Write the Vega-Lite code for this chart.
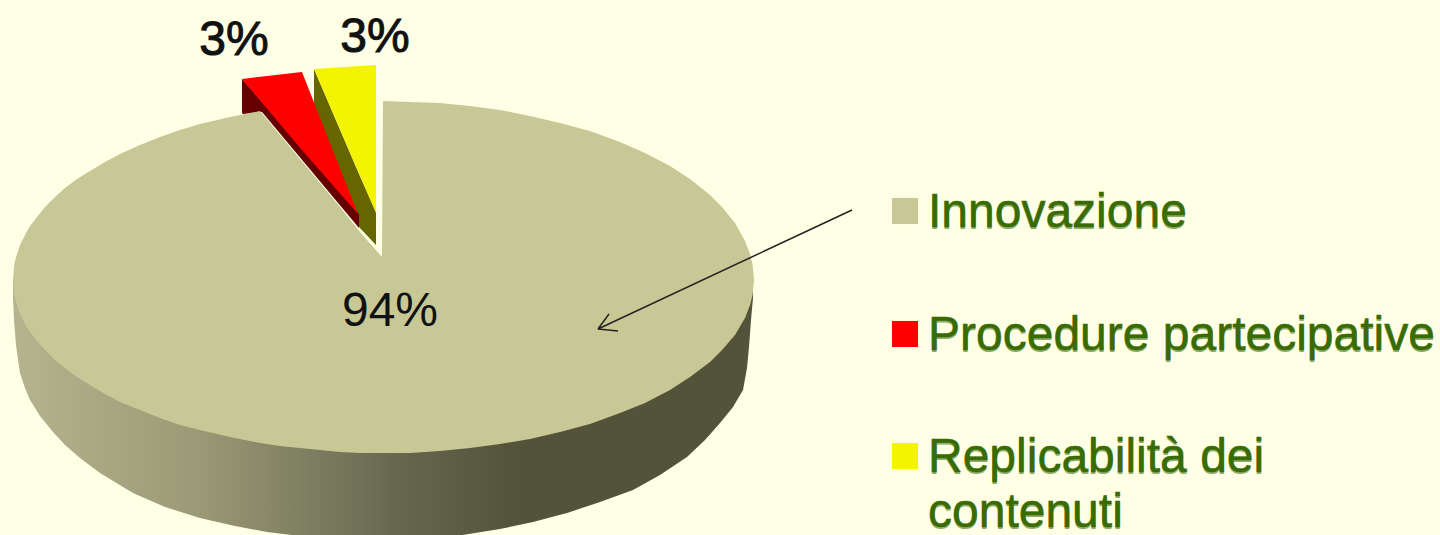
{
  "$schema": "https://vega.github.io/schema/vega-lite/v6.json",
  "width": 1440,
  "height": 535,
  "autosize": {"type": "none"},
  "padding": 0,
  "background": "#ffffe6",
  "view": {"stroke": null, "fill": "#ffffe6"},
  "datasets": {
    "pieSide": [
      {"x": 13, "y": 280, "y2": 297}, {"x": 14, "y": 280, "y2": 320}, {"x": 16, "y": 280, "y2": 345},
      {"x": 18, "y": 280, "y2": 360}, {"x": 20, "y": 280, "y2": 373}, {"x": 25, "y": 280, "y2": 388},
      {"x": 30, "y": 280, "y2": 400}, {"x": 40, "y": 280, "y2": 416}, {"x": 53, "y": 280, "y2": 432},
      {"x": 65, "y": 280, "y2": 445}, {"x": 80, "y": 280, "y2": 458}, {"x": 100, "y": 280, "y2": 473},
      {"x": 133, "y": 280, "y2": 493}, {"x": 165, "y": 280, "y2": 507}, {"x": 200, "y": 280, "y2": 518},
      {"x": 235, "y": 280, "y2": 526}, {"x": 267, "y": 280, "y2": 532}, {"x": 300, "y": 280, "y2": 536},
      {"x": 340, "y": 280, "y2": 540}, {"x": 383, "y": 280, "y2": 541}, {"x": 420, "y": 280, "y2": 540},
      {"x": 450, "y": 280, "y2": 537}, {"x": 500, "y": 280, "y2": 529}, {"x": 533, "y": 280, "y2": 522},
      {"x": 567, "y": 280, "y2": 513}, {"x": 600, "y": 280, "y2": 502}, {"x": 633, "y": 280, "y2": 490},
      {"x": 660, "y": 280, "y2": 475}, {"x": 687, "y": 280, "y2": 457}, {"x": 705, "y": 280, "y2": 440},
      {"x": 720, "y": 280, "y2": 423}, {"x": 733, "y": 280, "y2": 407}, {"x": 743, "y": 280, "y2": 390},
      {"x": 747, "y": 280, "y2": 368}, {"x": 749, "y": 280, "y2": 347}, {"x": 751, "y": 280, "y2": 320},
      {"x": 753, "y": 280, "y2": 298}
    ],
    "yellowSide": [
      {"x": 314, "y": 69, "y2": 107}, {"x": 359, "y": 174, "y2": 227}, {"x": 376, "y": 212, "y2": 245}
    ],
    "redSide": [
      {"x": 242, "y": 79, "y2": 113}, {"x": 243, "y": 80, "y2": 114},
      {"x": 262, "y": 102, "y2": 112}, {"x": 359, "y": 214, "y2": 228}
    ],
    "topFaces": [
      {"series": "Replicabilità dei contenuti", "x": 314, "y": 69, "y2": 69},
      {"series": "Replicabilità dei contenuti", "x": 376, "y": 65, "y2": 213},
      {"series": "Procedure partecipative", "x": 242, "y": 79, "y2": 79},
      {"series": "Procedure partecipative", "x": 302, "y": 72, "y2": 150},
      {"series": "Procedure partecipative", "x": 358, "y": 214, "y2": 214},
      {"series": "Innovazione", "x": 13, "y": 280, "y2": 280},
      {"series": "Innovazione", "x": 14, "y": 267, "y2": 293},
      {"series": "Innovazione", "x": 15, "y": 261, "y2": 298},
      {"series": "Innovazione", "x": 17, "y": 254, "y2": 305},
      {"series": "Innovazione", "x": 20, "y": 245, "y2": 314},
      {"series": "Innovazione", "x": 25, "y": 235, "y2": 324},
      {"series": "Innovazione", "x": 30, "y": 226, "y2": 332},
      {"series": "Innovazione", "x": 37, "y": 217, "y2": 341},
      {"series": "Innovazione", "x": 45, "y": 207, "y2": 350},
      {"series": "Innovazione", "x": 55, "y": 197, "y2": 360},
      {"series": "Innovazione", "x": 65, "y": 188, "y2": 368},
      {"series": "Innovazione", "x": 77, "y": 179, "y2": 377},
      {"series": "Innovazione", "x": 90, "y": 171, "y2": 385},
      {"series": "Innovazione", "x": 105, "y": 162, "y2": 394},
      {"series": "Innovazione", "x": 120, "y": 154, "y2": 402},
      {"series": "Innovazione", "x": 140, "y": 145, "y2": 410},
      {"series": "Innovazione", "x": 160, "y": 137, "y2": 418},
      {"series": "Innovazione", "x": 180, "y": 130, "y2": 425},
      {"series": "Innovazione", "x": 200, "y": 124, "y2": 430},
      {"series": "Innovazione", "x": 230, "y": 117, "y2": 437},
      {"series": "Innovazione", "x": 260, "y": 111, "y2": 443},
      {"series": "Innovazione", "x": 280, "y": 135, "y2": 446},
      {"series": "Innovazione", "x": 300, "y": 159, "y2": 448},
      {"series": "Innovazione", "x": 320, "y": 183, "y2": 450},
      {"series": "Innovazione", "x": 340, "y": 207, "y2": 452},
      {"series": "Innovazione", "x": 360, "y": 232, "y2": 453},
      {"series": "Innovazione", "x": 382, "y": 257, "y2": 453},
      {"series": "Innovazione", "x": 383, "y": 101, "y2": 453},
      {"series": "Innovazione", "x": 410, "y": 102, "y2": 453},
      {"series": "Innovazione", "x": 440, "y": 103, "y2": 451},
      {"series": "Innovazione", "x": 470, "y": 106, "y2": 448},
      {"series": "Innovazione", "x": 500, "y": 110, "y2": 444},
      {"series": "Innovazione", "x": 530, "y": 116, "y2": 439},
      {"series": "Innovazione", "x": 560, "y": 123, "y2": 432},
      {"series": "Innovazione", "x": 590, "y": 131, "y2": 424},
      {"series": "Innovazione", "x": 620, "y": 142, "y2": 413},
      {"series": "Innovazione", "x": 645, "y": 153, "y2": 403},
      {"series": "Innovazione", "x": 670, "y": 166, "y2": 390},
      {"series": "Innovazione", "x": 690, "y": 179, "y2": 377},
      {"series": "Innovazione", "x": 710, "y": 195, "y2": 362},
      {"series": "Innovazione", "x": 722, "y": 207, "y2": 350},
      {"series": "Innovazione", "x": 735, "y": 223, "y2": 335},
      {"series": "Innovazione", "x": 745, "y": 241, "y2": 318},
      {"series": "Innovazione", "x": 750, "y": 254, "y2": 305},
      {"series": "Innovazione", "x": 752.5, "y": 264, "y2": 295.5},
      {"series": "Innovazione", "x": 754, "y": 280, "y2": 280}
    ],
    "shares": [
      {"series": "Innovazione", "share": 0.94, "x": 390, "y": 326},
      {"series": "Procedure partecipative", "share": 0.03, "x": 234, "y": 55},
      {"series": "Replicabilità dei contenuti", "share": 0.03, "x": 375, "y": 52}
    ],
    "key": [
      {"series": "Innovazione", "lines": "Innovazione", "x": 905, "y": 211, "textX": 928, "textY": 227},
      {"series": "Procedure partecipative", "lines": "Procedure partecipative", "x": 905, "y": 334, "textX": 928, "textY": 350},
      {"series": "Replicabilità dei contenuti", "lines": ["Replicabilità dei", "contenuti"], "x": 905, "y": 456, "textX": 928, "textY": 472}
    ],
    "arrow": [
      {"x": 852, "y": 210, "x2": 598, "y2": 329},
      {"x": 598, "y": 329, "x2": 609, "y2": 314},
      {"x": 598, "y": 329, "x2": 618, "y2": 331}
    ]
  },
  "encoding": {
    "x": {"field": "x", "type": "quantitative", "axis": null, "scale": {"domain": [0, 1440], "nice": false}},
    "y": {"field": "y", "type": "quantitative", "axis": null, "scale": {"domain": [535, 0], "nice": false}}
  },
  "layer": [
    {
      "data": {"name": "pieSide"},
      "mark": {
        "type": "area", "orient": "vertical", "clip": true,
        "color": {
          "gradient": "linear", "x1": 0, "y1": 0, "x2": 1, "y2": 0,
          "stops": [
            {"offset": 0, "color": "#b4b48e"},
            {"offset": 0.25, "color": "#9a9a76"},
            {"offset": 0.52, "color": "#676750"},
            {"offset": 0.68, "color": "#53533a"},
            {"offset": 1, "color": "#53533a"}
          ]
        }
      },
      "encoding": {"y2": {"field": "y2"}}
    },
    {
      "data": {"name": "yellowSide"},
      "mark": {"type": "area", "orient": "vertical", "color": "#666600"},
      "encoding": {"y2": {"field": "y2"}}
    },
    {
      "data": {"name": "redSide"},
      "mark": {"type": "area", "orient": "vertical", "color": "#660000"},
      "encoding": {"y2": {"field": "y2"}}
    },
    {
      "data": {"name": "topFaces"},
      "mark": {"type": "area", "orient": "vertical"},
      "encoding": {
        "y2": {"field": "y2"},
        "color": {
          "field": "series", "type": "nominal", "legend": null,
          "scale": {
            "domain": ["Innovazione", "Procedure partecipative", "Replicabilità dei contenuti"],
            "range": ["#c8c896", "#ff0000", "#f4f400"]
          }
        }
      }
    },
    {
      "data": {"name": "arrow"},
      "mark": {"type": "rule", "color": "#222222", "strokeWidth": 1.5},
      "encoding": {"x2": {"field": "x2"}, "y2": {"field": "y2"}}
    },
    {
      "data": {"name": "shares"},
      "transform": [{"filter": "datum.share > 0.5"}],
      "mark": {"type": "text", "font": "Liberation Sans", "fontSize": 48, "align": "center", "baseline": "alphabetic", "color": "#111111"},
      "encoding": {"text": {"field": "share", "type": "quantitative", "format": ".0%"}}
    },
    {
      "data": {"name": "shares"},
      "transform": [{"filter": "datum.share < 0.5"}],
      "mark": {"type": "text", "font": "Liberation Sans", "fontSize": 48, "align": "center", "baseline": "alphabetic", "color": "#111111", "stroke": "#111111", "strokeWidth": 1},
      "encoding": {"text": {"field": "share", "type": "quantitative", "format": ".0%"}}
    },
    {
      "data": {"name": "key"},
      "mark": {"type": "point", "shape": "square", "filled": true, "size": 680, "opacity": 1},
      "encoding": {
        "color": {
          "field": "series", "type": "nominal", "legend": null,
          "scale": {
            "domain": ["Innovazione", "Procedure partecipative", "Replicabilità dei contenuti"],
            "range": ["#c8c896", "#ff0000", "#f4f400"]
          }
        }
      }
    },
    {
      "data": {"name": "key"},
      "mark": {"type": "text", "font": "Liberation Sans", "fontSize": 48, "lineHeight": 55, "align": "left", "baseline": "alphabetic", "dy": 2, "color": "#8fac70"},
      "encoding": {
        "x": {"field": "textX", "type": "quantitative"},
        "y": {"field": "textY", "type": "quantitative"},
        "text": {"field": "lines"}
      }
    },
    {
      "data": {"name": "key"},
      "mark": {"type": "text", "font": "Liberation Sans", "fontSize": 48, "lineHeight": 55, "align": "left", "baseline": "alphabetic", "color": "#386b00", "stroke": "#386b00", "strokeWidth": 0.5},
      "encoding": {
        "x": {"field": "textX", "type": "quantitative"},
        "y": {"field": "textY", "type": "quantitative"},
        "text": {"field": "lines"}
      }
    }
  ]
}
